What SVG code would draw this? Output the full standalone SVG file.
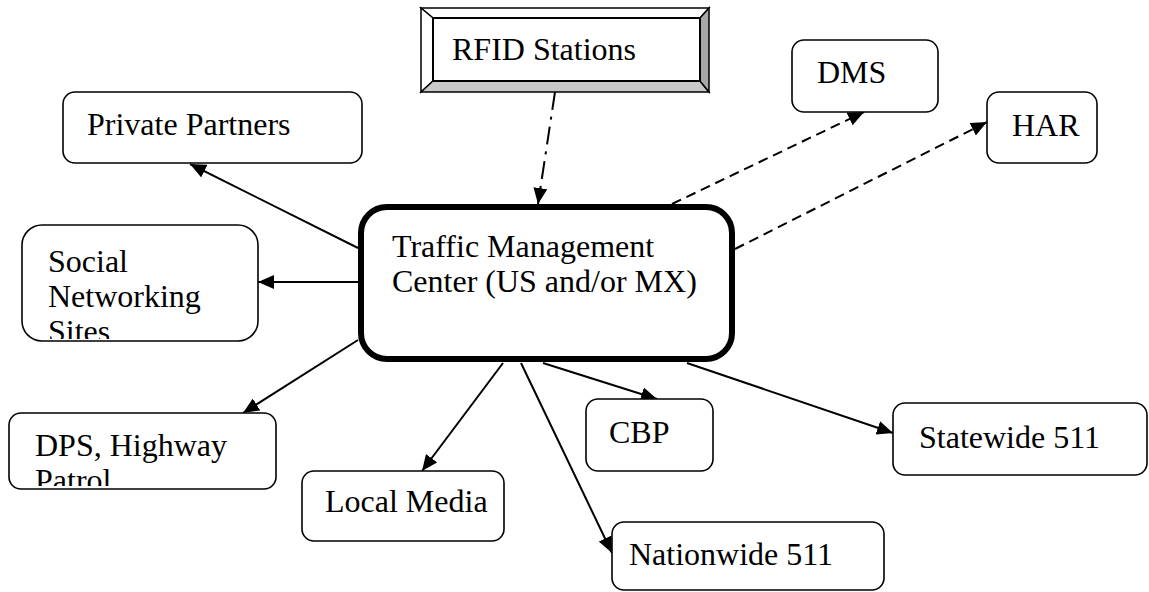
<svg xmlns="http://www.w3.org/2000/svg" width="1149" height="592" viewBox="0 0 1149 592">
<style>
.box{fill:#fff;stroke:#000;stroke-width:1.6}
.t{font-family:"Liberation Serif","Times New Roman",serif;font-size:32px;fill:#000}
.c{fill:none;stroke:#000;stroke-width:2}
.dash{stroke-dasharray:10 6}
.dd{stroke-dasharray:18 7 3 7}
</style>
<defs>
<marker id="ah" markerUnits="userSpaceOnUse" markerWidth="18" markerHeight="14" refX="16" refY="7" orient="auto" viewBox="0 0 18 14">
<path d="M0,0 L16,7 L0,14 z" fill="#000"/>
</marker>
<clipPath id="clipSocial"><rect x="22" y="225" width="236" height="114"/></clipPath>
<clipPath id="clipDPS"><rect x="9" y="413" width="267" height="73"/></clipPath>
</defs>
<rect width="1149" height="592" fill="#fff"/>
<g id="connectors">
<line class="c dd" x1="555" y1="92" x2="538" y2="204" marker-end="url(#ah)"/>
<line class="c dash" x1="672" y1="204" x2="864" y2="112" marker-end="url(#ah)"/>
<line class="c dash" x1="735" y1="249" x2="987" y2="122" marker-end="url(#ah)"/>
<line class="c" x1="358" y1="248" x2="190" y2="164" marker-end="url(#ah)"/>
<line class="c" x1="358" y1="282" x2="258" y2="282" marker-end="url(#ah)"/>
<line class="c" x1="358" y1="340" x2="243" y2="413" marker-end="url(#ah)"/>
<line class="c" x1="503" y1="363" x2="422" y2="471" marker-end="url(#ah)"/>
<line class="c" x1="521" y1="363" x2="612" y2="553" marker-end="url(#ah)"/>
<line class="c" x1="543" y1="363" x2="657" y2="399" marker-end="url(#ah)"/>
<line class="c" x1="687" y1="363" x2="893" y2="433" marker-end="url(#ah)"/>
</g>
<g id="rfid">
<polygon points="421,8 709,8 700,18 433,18" fill="#fff" stroke="#000" stroke-width="1.5"/>
<polygon points="421,8 433,18 433,81 421,92" fill="#fff" stroke="#000" stroke-width="1.5"/>
<polygon points="421,92 433,81 700,81 709,92" fill="#c8c8c8" stroke="#000" stroke-width="1.5"/>
<polygon points="709,8 709,92 700,81 700,18" fill="#a8a8a8" stroke="#000" stroke-width="1.5"/>
<rect x="433" y="18" width="267" height="63" fill="#fff" stroke="#000" stroke-width="2"/>
<text class="t" x="452" y="60">RFID Stations</text>
</g>
<g id="tmc">
<rect x="361" y="207" width="371" height="152" rx="26" fill="#fff" stroke="#000" stroke-width="6"/>
<text class="t" x="392" y="257">Traffic Management</text>
<text class="t" x="392" y="292">Center (US and/or MX)</text>
</g>
<g id="dms">
<rect class="box" x="792" y="40" width="146" height="72" rx="12"/>
<text class="t" x="817" y="83">DMS</text>
</g>
<g id="har">
<rect class="box" x="987" y="92" width="110" height="71" rx="12"/>
<text class="t" x="1012" y="136">HAR</text>
</g>
<g id="private">
<rect class="box" x="63" y="92" width="299" height="71" rx="12"/>
<text class="t" x="87" y="135">Private Partners</text>
</g>
<g id="social">
<rect class="box" x="22" y="225" width="236" height="116" rx="20"/>
<g clip-path="url(#clipSocial)">
<text class="t" x="48" y="272">Social</text>
<text class="t" x="48" y="307">Networking</text>
<text class="t" x="48" y="342">Sites</text>
</g>
</g>
<g id="dps">
<rect class="box" x="9" y="413" width="267" height="76" rx="12"/>
<g clip-path="url(#clipDPS)">
<text class="t" x="35" y="456">DPS, Highway</text>
<text class="t" x="35" y="491">Patrol</text>
</g>
</g>
<g id="localmedia">
<rect class="box" x="302" y="471" width="202" height="70" rx="12"/>
<text class="t" x="325" y="512">Local Media</text>
</g>
<g id="cbp">
<rect class="box" x="586" y="399" width="127" height="72" rx="12"/>
<text class="t" x="609" y="443">CBP</text>
</g>
<g id="nationwide">
<rect class="box" x="612" y="522" width="272" height="68" rx="12"/>
<text class="t" x="629" y="565">Nationwide 511</text>
</g>
<g id="statewide">
<rect class="box" x="893" y="403" width="254" height="72" rx="12"/>
<text class="t" x="919" y="448">Statewide 511</text>
</g>
</svg>
